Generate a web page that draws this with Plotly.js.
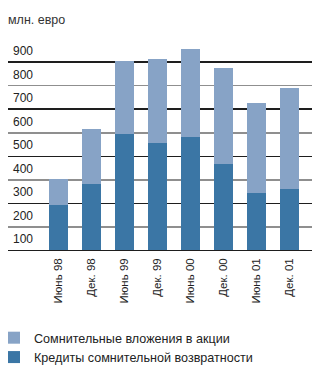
<!DOCTYPE html>
<html>
<head>
<meta charset="utf-8">
<script src="https://cdn.plot.ly/plotly-3.0.1.min.js"></script>
<style>html,body{margin:0;padding:0;background:#fff;}#chart{width:312px;height:365px;}</style>
</head>
<body>
<div id="chart"></div>
<script>
var categories = ["Июнь 98", "Дек. 98", "Июнь 99", "Дек. 99", "Июнь 00", "Дек. 00", "Июнь 01", "Дек. 01"];
var loans = [193, 282, 495, 456, 482, 367, 244, 261];
var shares = [109, 234, 310, 359, 374, 408, 382, 429];
var yTickVals = [100, 200, 300, 400, 500, 600, 700, 800, 900];
var yTickText = ["100", "200", "300", "400", "500", "600", "700", "800", "900"];
var seriesNames = ["Кредиты сомнительной возвратности", "Сомнительные вложения в акции"];

var regular = "'Liberation Sans', Arial, sans-serif";

var traces = [
  {type: "bar", x: categories, y: loans, name: seriesNames[0], marker: {color: "#3b76a5"}, hoverinfo: "none"},
  {type: "bar", x: categories, y: shares, name: seriesNames[1], marker: {color: "#87a3c6"}, hoverinfo: "none"},
  {type: "scatter", x: [categories[0]], y: [0], yaxis: "y2", mode: "none", showlegend: false, hoverinfo: "none"},
  {type: "scatter", x: [categories[0]], y: [0], yaxis: "y3", mode: "none", showlegend: false, hoverinfo: "none"}
];

var yr = [-3, 903];
var layout = {
  width: 312, height: 365,
  margin: {l: 8, r: 0, t: 38, b: 114},
  paper_bgcolor: "#fff", plot_bgcolor: "rgba(0,0,0,0)",
  barmode: "stack", bargap: 0.42,
  showlegend: true,
  title: {text: "млн. евро", x: 8/312, xanchor: "left", xref: "container", y: 1 - 19.5/365, yref: "container", yanchor: "middle",
          font: {family: regular, size: 12.5, color: "#333"}},
  xaxis: {type: "category", range: [-1.53, 7.68], showgrid: false, zeroline: false, showline: false, ticks: "",
          tickangle: -90, tickfont: {family: regular, size: 11.5, color: "#222"}, ticklabelstandoff: 4},
  yaxis: {range: yr, tick0: 0, dtick: 100, showgrid: true, gridcolor: "#8f8f8f", gridwidth: 1.5,
          zeroline: true, zerolinecolor: "#1e1e1e", zerolinewidth: 1.5,
          showticklabels: false, ticks: ""},
  yaxis2: {range: yr, overlaying: "y", tickmode: "array", tickvals: yTickVals, ticktext: yTickText, showgrid: false, zeroline: false,
           ticks: "", ticklabelposition: "inside bottom", tickfont: {family: regular, size: 12, color: "#222"},
           ticklabelstandoff: 2, ticklabelshift: 4},
  yaxis3: {range: yr, overlaying: "y", tick0: 0, dtick: 200, showgrid: true, gridcolor: "#1e1e1e", gridwidth: 1.5,
           zeroline: false, showticklabels: false, ticks: ""},
  legend: {orientation: "v", x: -18/304, xanchor: "left", xref: "paper", y: 1 - 323/365, yref: "container", yanchor: "top",
           indentation: -6,
           traceorder: "reversed", font: {family: regular, size: 12.6, color: "#222"}, tracegroupgap: 0,
           itemclick: false, bgcolor: "rgba(0,0,0,0)"}
};

Plotly.newPlot("chart", traces, layout, {staticPlot: true, displayModeBar: false});
</script>
</body>
</html>
